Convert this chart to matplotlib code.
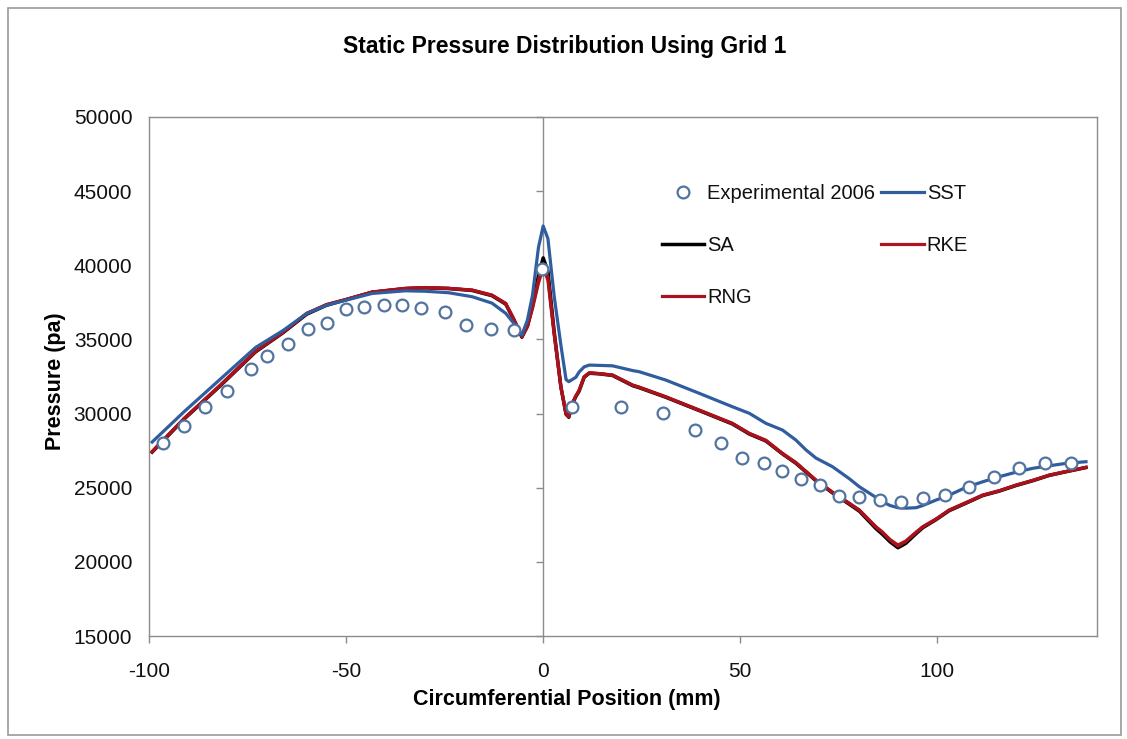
import matplotlib
matplotlib.use("Agg")
import matplotlib.pyplot as plt
from matplotlib.patches import Rectangle

plt.rcParams['font.family'] = ['Liberation Sans', 'DejaVu Sans']
plt.rcParams['axes.unicode_minus'] = False

# Measured static pressure (Experimental 2006)
exp_x = [-96.4, -91.1, -85.8, -80.3, -74.2, -70.1, -64.7, -59.7, -54.9, -49.9,
         -45.4, -40.4, -35.9, -31.0, -24.9, -19.6, -13.2, -7.4, -0.3,
         7.3, 19.7, 30.5, 38.6, 45.0, 50.5, 56.1, 60.6, 65.4, 70.2, 75.1,
         80.2, 85.5, 90.8, 96.3, 102.0, 108.1, 114.3, 120.6, 127.4, 133.8]
exp_p = [27990, 29160, 30420, 31540, 32980, 33880, 34710, 35680, 36090, 37030,
         37160, 37320, 37300, 37120, 36850, 35970, 35700, 35630, 39730,
         30420, 30420, 30020, 28890, 27990, 27000, 26650, 26150, 25570, 25160, 24440,
         24350, 24170, 24060, 24290, 24510, 25070, 25700, 26310, 26690, 26690]

# CFD results, circumferential positions (mm)
model_x = [-99.2, -91.0, -82.0, -73.0, -66.0, -60.0, -55.0, -50.0, -43.4, -35.0,
           -30.0, -24.0, -18.0, -13.0, -9.5, -7.5, -5.4, -4.0, -2.7, -1.2,
           0.0, 1.2, 2.8, 4.5, 5.8, 6.5, 7.4, 8.3, 9.1, 10.4,
           11.7, 14.2, 17.6, 22.7, 24.4, 31.1, 39.6, 48.0, 52.3, 56.5,
           60.7, 64.1, 66.7, 69.2, 73.4, 77.7, 80.2, 84.4, 86.1, 88.0,
           90.0, 92.0, 94.6, 96.3, 99.7, 103.0, 107.3, 111.5, 115.7, 120.0,
           124.2, 128.4, 132.7, 137.7]

sst_p = [28080, 30150, 32300, 34450, 35600, 36750, 37300, 37650, 38100, 38280,
         38250, 38150, 37880, 37450, 36760, 36100, 35300, 36300, 38000, 41200,
         42650, 41800, 37900, 34600, 32300, 32150, 32300, 32450, 32800, 33150,
         33270, 33250, 33220, 32900, 32820, 32260, 31365, 30462, 30017, 29342,
         28890, 28216, 27542, 27000, 26416, 25600, 25067, 24350, 24056, 23800,
         23651, 23620, 23651, 23800, 24170, 24500, 25027, 25400, 25742, 26050,
         26308, 26480, 26645, 26753]

sa_p = [27400, 29650, 31850, 34150, 35450, 36700, 37300, 37680, 38180, 38420,
        38480, 38430, 38300, 37950, 37380, 36350, 35150, 35900, 37300, 39300,
        40500, 39600, 35500, 31800, 29950, 29750, 30650, 31150, 31500, 32450,
        32720, 32680, 32570, 31880, 31740, 31100, 30200, 29300, 28620, 28150,
        27280, 26650, 26050, 25470, 24650, 23880, 23420, 22250, 21850, 21350,
        20950, 21250, 21900, 22300, 22850, 23450, 23960, 24470, 24770, 25150,
        25470, 25830, 26080, 26360]

rke_p = [27450, 29700, 31900, 34200, 35500, 36760, 37350, 37700, 38200, 38445,
         38500, 38450, 38330, 37990, 37430, 36400, 35200, 35900, 37200, 39000,
         40100, 39200, 35400, 31800, 30017, 29800, 30700, 31200, 31560, 32485,
         32755, 32700, 32600, 31925, 31780, 31136, 30239, 29342, 28668, 28200,
         27320, 26700, 26100, 25519, 24700, 23948, 23500, 22370, 22000, 21500,
         21136, 21400, 22000, 22370, 22900, 23496, 24000, 24508, 24800, 25182,
         25500, 25856, 26100, 26375]

rng_p = [27420, 29680, 31880, 34180, 35480, 36740, 37340, 37690, 38190, 38440,
         38490, 38440, 38320, 37980, 37420, 36380, 35180, 35850, 37100, 38800,
         39850, 39000, 35300, 31750, 29980, 29780, 30680, 31180, 31540, 32470,
         32740, 32690, 32590, 31910, 31770, 31120, 30220, 29330, 28650, 28180,
         27300, 26680, 26080, 25500, 24680, 23930, 23480, 22350, 21980, 21480,
         21060, 21380, 21980, 22350, 22880, 23480, 23990, 24490, 24790, 25170,
         25490, 25840, 26090, 26365]

x_ticks = [-100, -50, 0, 50, 100]
y_ticks = [15000, 20000, 25000, 30000, 35000, 40000, 45000, 50000]

BLUE = '#2F5D9E'
RED = '#B0141E'
RED2 = '#A8121C'
MARKER = '#52739F'
GRID = '#8C8C8C'

fig = plt.figure(figsize=(11.27, 7.39), dpi=100)
ax = fig.add_axes([149 / 1127, 1 - 636 / 739, (1097 - 149) / 1127, (636 - 117) / 739])

xmin, xmax = -100, 140.5
ax.set_xlim(xmin, xmax)
ax.set_ylim(15000, 50000)

# vertical axis crossing at x = 0
ax.axvline(0, color=GRID, lw=1.0, zorder=1)

l_sst, = ax.plot(model_x, sst_p, color=BLUE, lw=2.3, label='SST', zorder=3)
l_sa, = ax.plot(model_x, sa_p, color='black', lw=2.5, label='SA', zorder=2)
l_rke, = ax.plot(model_x, rke_p, color=RED, lw=2.3, label='RKE', zorder=2.2)
l_rng, = ax.plot(model_x, rng_p, color=RED2, lw=2.3, label='RNG', zorder=2.4)
l_exp, = ax.plot(exp_x, exp_p, ls='none', marker='o', ms=8.5, mfc='white',
                 mec=MARKER, mew=1.6, label='Experimental 2006', zorder=4)

ax.set_xticks(x_ticks)
ax.set_yticks(y_ticks)
ax.tick_params(axis='x', direction='out', length=5, width=1, color=GRID,
               labelsize=15, pad=14, labelcolor='#111111')
ax.tick_params(axis='y', length=0, labelsize=15, pad=12, labelcolor='#111111')
for s in ax.spines.values():
    s.set_color(GRID)
    s.set_linewidth(1.0)

# tick marks on the axis line at x = 0
sec = ax.secondary_yaxis((0 - xmin) / (xmax - xmin))
sec.set_yticks(y_ticks)
sec.tick_params(axis='y', direction='out', length=5, width=1, color=GRID,
                labelleft=False, labelright=False)
sec.spines['left'].set_visible(False)
sec.spines['right'].set_visible(False)

fig.text(565 / 1127, 1 - 47 / 739, 'Static Pressure Distribution Using Grid 1',
         fontsize=16.5, fontweight='bold', ha='center', va='center')

ax.set_xlabel('Circumferential Position (mm)', fontsize=15.5, fontweight='bold')
ax.xaxis.set_label_coords(0.441, -(700 - 636) / 519)
ax.xaxis.label.set_va('center')
ax.set_ylabel('Pressure (pa)', fontsize=15.5, fontweight='bold')
ax.yaxis.set_label_coords(-(149 - 55) / 948, (636 - 381) / 519)
ax.yaxis.label.set_va('center')

leg = ax.legend(handles=[l_exp, l_sa, l_rng, l_sst, l_rke], ncol=2, frameon=False,
                fontsize=14.5, handlelength=2.1, handletextpad=0.15,
                columnspacing=0.3, labelspacing=1.65, borderpad=0,
                borderaxespad=0, loc='upper left',
                bbox_to_anchor=((662 - 149) / 948, (636 - 184) / 519))
for t in leg.get_texts():
    t.set_color('#111111')

# chart area frame
fig.patches.append(Rectangle((8 / 1127, 4 / 739), (1121 - 8) / 1127, (731 - 4) / 739,
                             transform=fig.transFigure, fill=False,
                             edgecolor='#9A9A9A', lw=1.2))

fig.savefig('out.png', dpi=100)
